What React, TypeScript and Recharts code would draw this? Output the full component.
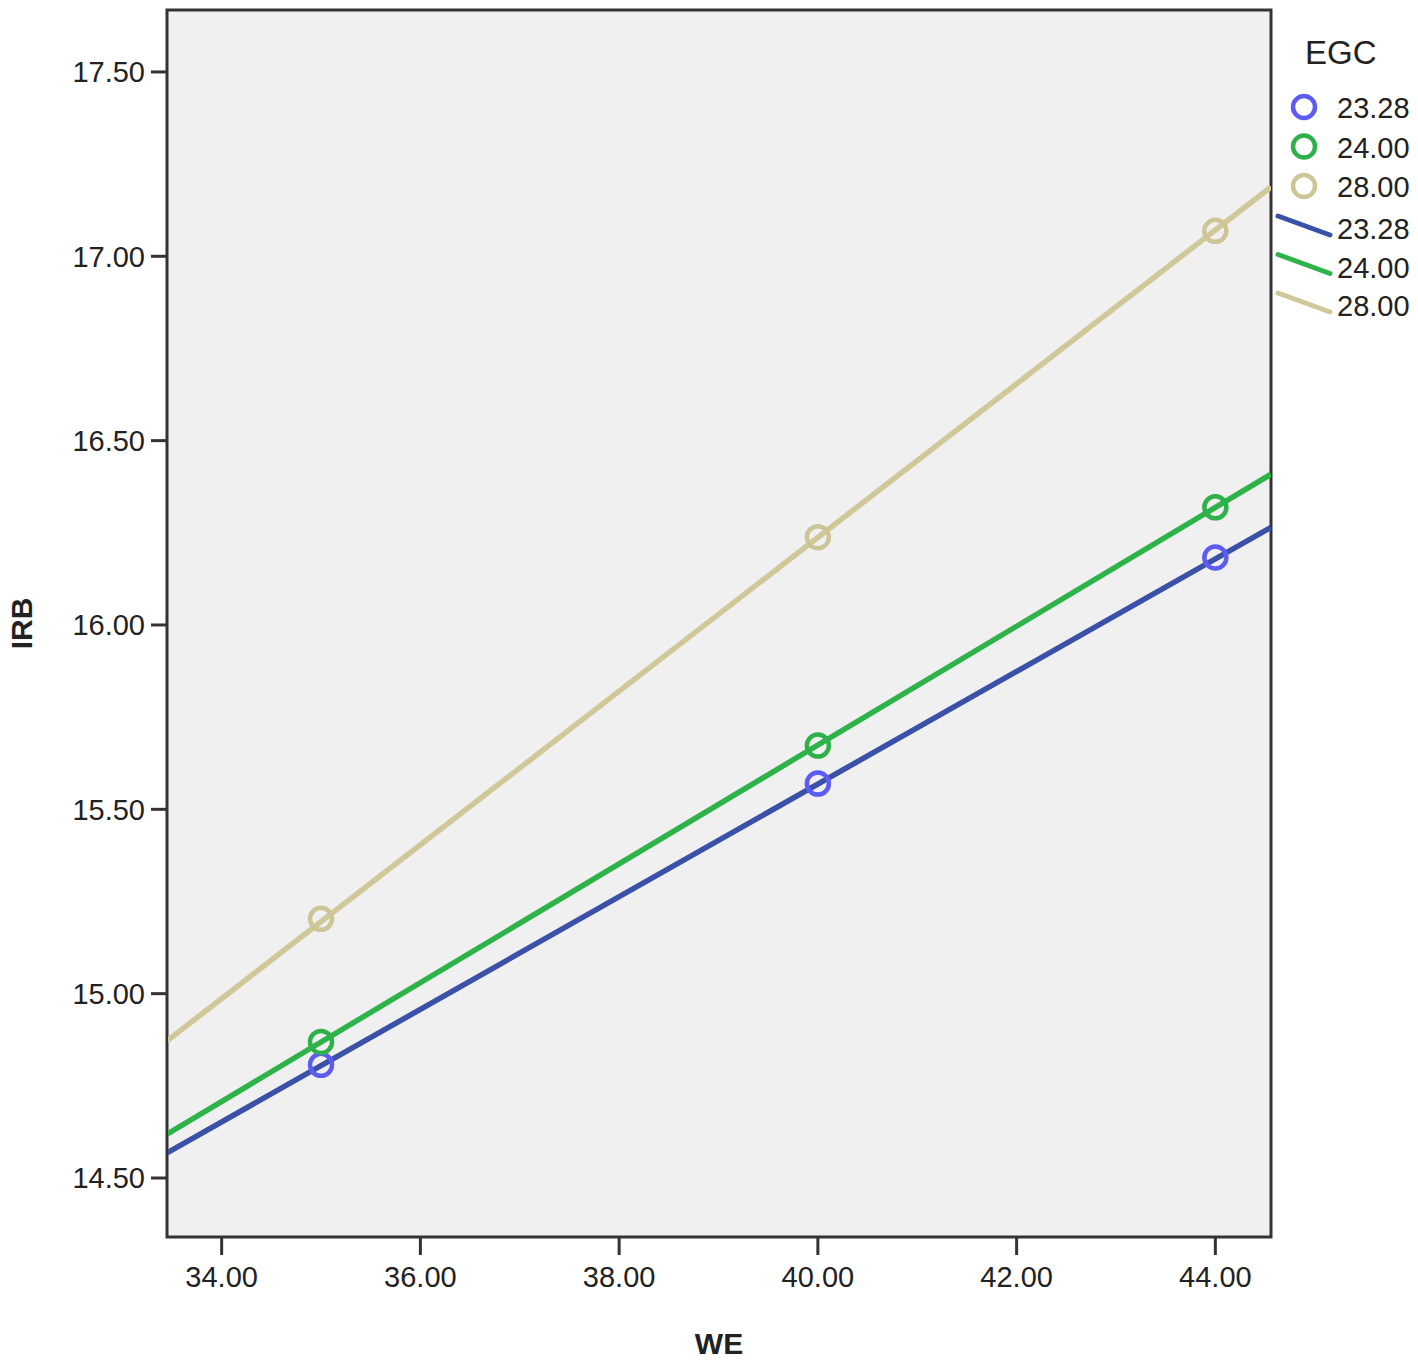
import React from "react";
import {
  ComposedChart,
  Scatter,
  Line,
  XAxis,
  YAxis,
  ReferenceArea,
  Label,
} from "recharts";

// WE values where the observed points sit
const weValues = [35, 40, 44];

// IRB at each WE, per EGC group
const egc2328 = [14.807, 15.57, 16.183];
const egc2400 = [14.869, 15.673, 16.319];
const egc2800 = [15.203, 16.238, 17.069];

// fit lines: IRB at the left and right edges of the plot
const fitX = [33.45, 44.56];
const fit2328 = [14.568, 16.265];
const fit2400 = [14.619, 16.409];
const fit2800 = [14.872, 17.188];

const xTicks = [34, 36, 38, 40, 42, 44];
const yTicks = [14.5, 15.0, 15.5, 16.0, 16.5, 17.0, 17.5];
const groups = ["23.28", "24.00", "28.00"];

const pointColors = ["#5c5cf5", "#2fb14a", "#cdc596"];
const lineColors = ["#3b51a8", "#2eb34a", "#d0c899"];

const toPoints = (ys: number[]) => weValues.map((x, i) => ({ x, y: ys[i] }));
const toFit = (ys: number[]) => fitX.map((x, i) => ({ x, y: ys[i] }));

const pointSeries = [egc2328, egc2400, egc2800].map(toPoints);
const fitSeries = [fit2328, fit2400, fit2800].map(toFit);

const FONT = "'Liberation Sans', Arial, sans-serif";

const OpenCircle = (props: any) => {
  const { cx, cy, fill } = props;
  return <circle cx={cx} cy={cy} r={11} fill="none" stroke={fill} strokeWidth={4.5} />;
};

const LegendBox = () => (
  <svg
    width={150}
    height={330}
    style={{ position: "absolute", left: 1270, top: 20, fontFamily: FONT }}
  >
    <text x={35} y={44} fontSize={33} fill="#222">
      EGC
    </text>
    {groups.map((g, i) => (
      <g key={`p-${g}`}>
        <circle cx={34} cy={87 + i * 39.5} r={11} fill="none" stroke={pointColors[i]} strokeWidth={4.5} />
        <text x={67} y={98 + i * 39.5} fontSize={29} fill="#222">
          {g}
        </text>
      </g>
    ))}
    {groups.map((g, i) => (
      <g key={`l-${g}`}>
        <line
          x1={8}
          y1={196 + i * 38.5}
          x2={60}
          y2={215 + i * 38.5}
          stroke={lineColors[i]}
          strokeWidth={5}
          strokeLinecap="round"
        />
        <text x={67} y={219 + i * 38.5} fontSize={29} fill="#222">
          {g}
        </text>
      </g>
    ))}
  </svg>
);

export default function App() {
  return (
    <div style={{ position: "absolute", left: 0, top: 0, width: 1418, height: 1364, background: "#fff" }}>
      <ComposedChart
        width={1418}
        height={1364}
        margin={{ top: 10, right: 147, bottom: 0, left: 0 }}
        style={{ fontFamily: FONT }}
      >
        <XAxis
          type="number"
          dataKey="x"
          domain={[33.45, 44.56]}
          allowDataOverflow
          ticks={xTicks}
          tickFormatter={(v: number) => v.toFixed(2)}
          height={127}
          tickSize={18}
          tickMargin={11}
          tick={{ fontSize: 29, fill: "#222" }}
          stroke="#333"
          axisLine={{ strokeWidth: 2 }}
          tickLine={{ strokeWidth: 3 }}
        >
          <Label value="WE" position="insideBottom" offset={10} style={{ fontSize: 30, fontWeight: "bold", fill: "#222" }} />
        </XAxis>
        <YAxis
          type="number"
          dataKey="y"
          domain={[14.34, 17.668]}
          allowDataOverflow
          ticks={yTicks}
          tickFormatter={(v: number) => v.toFixed(2)}
          width={167}
          tickSize={16}
          tickMargin={6}
          tick={{ fontSize: 29, fill: "#222" }}
          stroke="#333"
          axisLine={{ strokeWidth: 2 }}
          tickLine={{ strokeWidth: 3 }}
        >
          <Label
            value="IRB"
            angle={-90}
            position="insideLeft"
            offset={21}
            style={{ fontSize: 30, fontWeight: "bold", fill: "#222", textAnchor: "middle" }}
          />
        </YAxis>
        <ReferenceArea
          x1={33.45}
          x2={44.56}
          y1={14.34}
          y2={17.668}
          fill="#f0f0f0"
          fillOpacity={1}
          stroke="#333"
          strokeWidth={3}
          ifOverflow="visible"
        />
        {pointSeries.map((d, i) => (
          <Scatter
            key={`pts-${i}`}
            name={groups[i]}
            data={d}
            fill={pointColors[i]}
            shape={<OpenCircle />}
            isAnimationActive={false}
          />
        ))}
        {fitSeries.map((d, i) => (
          <Line
            key={`fit-${i}`}
            name={groups[i]}
            data={d}
            dataKey="y"
            type="linear"
            stroke={lineColors[i]}
            strokeWidth={5.5}
            dot={false}
            activeDot={false}
            isAnimationActive={false}
          />
        ))}
      </ComposedChart>
      <LegendBox />
    </div>
  );
}
